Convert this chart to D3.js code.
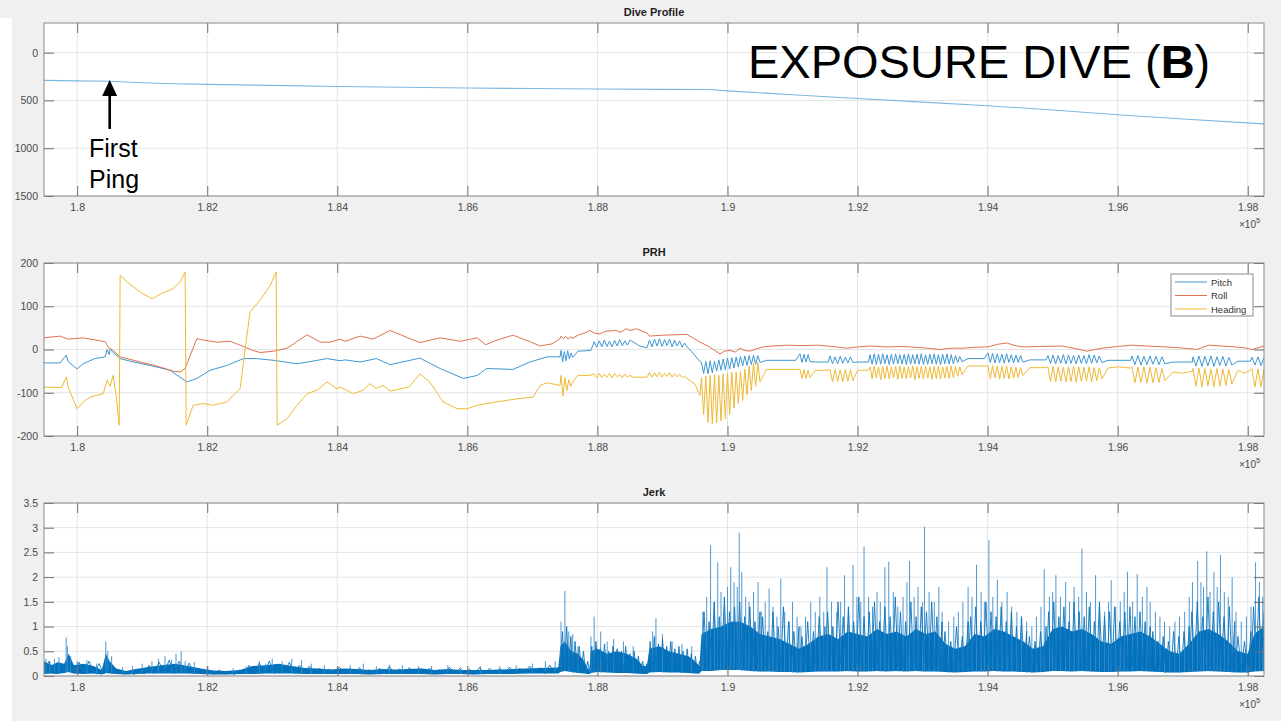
<!DOCTYPE html>
<html lang="en">
<head>
<meta charset="UTF-8" />
<title>Exposure Dive (B)</title>
<script src="https://d3js.org/d3.v7.min.js"></script>
<style>
  body { margin: 0; background: #f0f0f0; }
  svg { display: block; font-family: Arial, 'Liberation Sans', sans-serif; }
  .tick text { fill: #4a4a4a; font-size: 10.5px; font-family: Arial, 'Liberation Sans', sans-serif; }
  .tick line { stroke: #6e6e6e; }
  .domain { display: none; }
  .grid line { stroke: #e4e4e4; stroke-width: 1; }
  .title { font-weight: bold; font-size: 11px; fill: #1e1e1e; text-anchor: middle; }
  .exp { font-size: 10px; fill: #4a4a4a; }
</style>
</head>
<body>
<svg id="chart" width="1281" height="721"></svg>
<script>
  // ---- data (x in samples) ----
  const xTicks = [180000, 182000, 184000, 186000, 188000, 190000, 192000, 194000, 196000, 198000];
  const diveTicks = [0, 500, 1000, 1500];
  const prhTicks = [-200, -100, 0, 100, 200];
  const jerkTicks = [0, 0.5, 1, 1.5, 2, 2.5, 3, 3.5];

  const diveDepth = [[179490,290],[180000,295],[180500,300],[181000,315],[181500,325],[182000,332],
    [183000,343],[184000,355],[185000,363],[186000,370],[187000,376],[188000,381],[189000,384],
    [189700,385],[190000,400],[191000,440],[192000,480],[193000,518],[194000,555],[195000,600],
    [196000,650],[197000,695],[198250,745]];

  // items are [x, value] or [x0, x1, [values evenly spaced between x0 and x1]] for fluking bursts
  const pitch = [[179490,-31],[179739,-31],[179831,-13],[179862,-28],[180000,-45],[180092,-33],[180270,-21],
    [180430,-17],[180461,0],[180490,-12],[180507,0],[180540,-5],[180661,-21],[180870,-29],[181122,-37],
    [181429,-48],[181686,-75],[181840,-67],[182044,-48],[182300,-37],[182556,-21],[182760,-21],[183020,-25],
    [183377,-33],[183580,-28],[183843,-21],[184042,-26],[184120,-24],[184350,-29],[184600,-21],[184812,-35],
    [185273,-20],[185580,-44],[185938,-67],[186150,-60],[186297,-44],[186703,-46],[186964,-29],[187225,-17],
    [187425,-17],
    [187440,187620,[-2,-28,-5,-26,-3,-22,-8,-18]],
    [187700,-4],[187900,-2],
    [187950,188500,[18,5,20,6,22,7,19,6,21,8,23,9,20,10,22]],
    [188650,8],[188763,4],
    [188800,189380,[22,6,24,8,25,7,23,9,24,6,22,8,20,5,15,6]],
    [189450,-5],[189577,-28],
    [189600,190500,[-30,-55,-28,-56,-26,-54,-27,-50,-24,-48,-22,-47,-20,-45,-19,-43,-18,-40,-16,-38,-15,-37,-14,-35,-13,-34,-14,-30]],
    [190600,-25],[191050,-25],
    [191115,191270,[-10,-30,-11,-29,-12,-28]],
    [191350,-29],[191550,-29],
    [191576,191930,[-15,-33,-17,-33,-16,-32,-18,-31,-17,-30]],
    [192000,-29],[192170,-29],
    [192191,193605,[-12,-34,-10,-35,-11,-34,-10,-33,-12,-35,-11,-34,-10,-33,-12,-34,-11,-35,-10,-34,-12,-33,-11,-34,-10,-35,-12,-34,-11,-33,-10,-34,-12,-35,-11,-33,-10,-34,-12,-33,-14,-30,-16,-28]],
    [193700,-21],[193950,-21],
    [194005,194543,[-8,-30,-9,-31,-10,-30,-11,-32,-10,-30,-12,-31,-13,-30,-14,-29]],
    [194650,-24],[194900,-24],
    [194927,195757,[-14,-32,-13,-33,-14,-32,-12,-33,-13,-32,-14,-33,-13,-32,-14,-33,-12,-32,-13,-31,-15,-30]],
    [195850,-25],[196200,-25],
    [196219,196726,[-15,-35,-14,-36,-16,-35,-15,-34,-16,-35,-17,-33]],
    [196850,-29],[197150,-29],
    [197157,197756,[-17,-38,-15,-39,-16,-38,-15,-39,-17,-37,-16,-38,-18,-36]],
    [197850,-27],[198040,-27],
    [198064,198250,[-18,-36,-17,-37,-19]]];

  const roll = [[179490,27],[179739,31],[179862,24],[180092,27],[180354,20],[180430,18],[180461,10],[180490,3],
    [180553,-2],[180661,-17],[180969,-29],[181200,-37],[181476,-50],[181583,-52],[181660,-44],[181740,-13],
    [181840,25],[181937,22],[182150,17],[182350,19],[182506,10],[182700,-2],[182813,-7],[183020,-4],[183228,3],
    [183536,34],[183740,17],[183890,17],[184042,24],[184120,19],[184350,31],[184550,24],[184812,44],[185119,25],
    [185273,16],[185580,27],[185890,19],[186149,27],[186280,11],[186457,22],[186703,33],[186964,18],[187118,8],
    [187300,13],[187425,25],
    [187440,187620,[31,25,30,24,29,26]],
    [187700,33],[187800,38],[187886,44],[187950,38],[188040,36],[188120,42],[188280,44],[188360,40],[188440,48],
    [188501,44],[188600,48],[188700,42],[188763,38],[188800,31],[189000,33],[189200,34],[189378,35],[189577,17],
    [189700,8],[189800,-2],[189885,-10],[189950,-4],[190039,-2],[190120,-6],[190192,3],[190260,-2],[190346,-4],
    [190450,2],[190550,6],[190700,8],[190915,10],[191150,9],[191400,10],[191600,7],[191837,3],[192000,6],
    [192191,8],[192450,6],[192700,7],[193000,4],[193267,0],[193450,3],[193605,3],[193800,5],[194005,6],
    [194150,12],[194297,15],[194420,9],[194543,6],[194800,7],[195150,8],[195350,2],[195527,-4],[195650,0],
    [195757,3],[196000,7],[196219,10],[196450,8],[196726,6],[196950,4],[197218,0],[197400,10],[197600,8],
    [197800,6],[197950,4],[198064,0],[198248,8]];

  const heading = [[179490,-87],[179760,-88],[179831,-64],[179870,-90],[180000,-137],[180092,-121],[180200,-110],
    [180400,-102],[180461,-71],[180507,-85],[180553,-60],[180600,-106],[180646,-175],[180661,172],[180769,156],
    [180969,133],[181153,117],[181276,128],[181476,141],[181583,156],[181660,179],[181676,-175],[181783,-129],
    [181937,-125],[182091,-129],[182306,-121],[182398,-106],[182506,-91],[182583,2],[182660,87],[182813,114],
    [182967,148],[183059,179],[183075,-175],[183228,-160],[183382,-129],[183536,-102],[183690,-94],[183843,-75],
    [183997,-91],[184042,-87],[184250,-102],[184400,-94],[184500,-79],[184600,-90],[184700,-83],[184812,-96],
    [185100,-87],[185273,-56],[185420,-75],[185627,-121],[185842,-137],[185995,-137],[186149,-129],[186457,-121],
    [186764,-114],[187010,-110],[187118,-83],[187225,-77],[187425,-83],
    [187440,187620,[-60,-108,-65,-95,-70,-85,-75]],
    [187700,-60],[187886,-60],
    [187950,188500,[-56,-66,-55,-65,-57,-64,-55,-66,-56,-63,-58,-65,-57,-64,-60]],
    [188547,-64],[188763,-64],
    [188800,189380,[-53,-64,-54,-63,-52,-64,-55,-62,-53,-64,-56,-63,-58,-65,-62,-67]],
    [189500,-80],[189577,-106],
    [189600,190500,[-65,-150,-62,-168,-60,-172,-58,-170,-60,-165,-57,-160,-55,-150,-53,-135,-52,-125,-50,-118,-45,-105,-38,-95,-32,-85,-30,-75]],
    [190600,-46],[191050,-46],
    [191115,191270,[-46,-67,-46,-67,-48,-65]],
    [191350,-48],[191550,-48],
    [191576,191930,[-46,-75,-46,-74,-47,-75,-46,-73,-47,-72]],
    [192000,-48],[192170,-48],
    [192191,193605,[-40,-68,-38,-66,-40,-70,-39,-67,-38,-68,-40,-66,-39,-69,-38,-67,-40,-68,-39,-66,-38,-70,-40,-67,-39,-68,-38,-66,-40,-69,-39,-67,-38,-68,-40,-66,-39,-67,-38,-65,-39,-62,-40,-58]],
    [193700,-38],[193950,-38],
    [194005,194543,[-38,-68,-37,-66,-38,-68,-39,-67,-38,-68,-40,-66,-41,-65,-42,-60]],
    [194650,-42],[194900,-42],
    [194927,195757,[-40,-74,-39,-75,-40,-73,-41,-75,-40,-74,-39,-76,-40,-74,-41,-73,-40,-75,-42,-72,-43,-68]],
    [195850,-43],[196000,-40],[196200,-43],
    [196219,196726,[-40,-77,-41,-76,-40,-78,-41,-77,-42,-76,-44,-72]],
    [196850,-52],[197000,-55],[197150,-50],
    [197157,197756,[-44,-85,-43,-86,-44,-84,-45,-86,-44,-85,-45,-83,-46,-80]],
    [197850,-48],[197950,-55],[198040,-48],
    [198064,198250,[-44,-87,-45,-86,-46]]];

  // jerk: dense core band [x, low, high]
  const jerkBand = [[179490,0.04,0.30],[179600,0.05,0.22],[179700,0.04,0.28],[179800,0.06,0.25],[179870,0.08,0.45],
    [179950,0.05,0.22],[180100,0.04,0.25],[180250,0.05,0.2],[180380,0.03,0.12],[180440,0.06,0.45],[180500,0.05,0.3],
    [180600,0.04,0.15],[180750,0.03,0.1],[180900,0.04,0.14],[181100,0.05,0.18],[181300,0.05,0.22],[181500,0.05,0.25],
    [181700,0.05,0.2],[181900,0.04,0.15],[182100,0.03,0.11],[182300,0.03,0.1],[182500,0.04,0.12],[182700,0.04,0.2],
    [182900,0.05,0.22],[183100,0.05,0.25],[183300,0.05,0.2],[183500,0.04,0.16],[183700,0.04,0.15],[183900,0.04,0.13],
    [184100,0.04,0.15],[184300,0.04,0.14],[184500,0.03,0.12],[184700,0.04,0.14],[184900,0.04,0.13],[185100,0.04,0.14],
    [185300,0.04,0.15],[185500,0.03,0.12],[185700,0.04,0.14],[185900,0.04,0.12],[186100,0.03,0.12],[186300,0.04,0.12],
    [186500,0.04,0.13],[186700,0.04,0.14],[186900,0.05,0.15],[187100,0.05,0.16],[187400,0.05,0.17],
    [187430,0.08,0.6],[187500,0.1,0.7],[187600,0.08,0.5],[187700,0.06,0.45],[187800,0.05,0.3],[187850,0.04,0.15],
    [187880,0.04,0.12],[187900,0.06,0.5],[188000,0.08,0.55],[188150,0.07,0.45],[188300,0.06,0.5],[188450,0.06,0.45],
    [188600,0.05,0.35],[188700,0.04,0.2],[188760,0.04,0.2],[188800,0.07,0.55],[188950,0.08,0.6],[189100,0.07,0.5],
    [189250,0.07,0.45],[189400,0.06,0.4],[189500,0.05,0.3],[189570,0.05,0.2],
    [189600,0.1,0.85],[189750,0.1,0.95],[189900,0.12,1.0],[190050,0.12,1.1],[190200,0.12,1.1],[190350,0.1,1.0],
    [190500,0.09,0.85],[190650,0.09,0.8],[190800,0.08,0.75],[190950,0.08,0.65],[191100,0.07,0.55],[191250,0.08,0.65],
    [191400,0.09,0.8],[191550,0.09,0.85],[191700,0.09,0.75],[191850,0.1,0.9],[192000,0.09,0.85],[192150,0.09,0.8],
    [192300,0.1,0.95],[192450,0.09,0.85],[192600,0.1,0.9],[192750,0.09,0.8],[192900,0.1,0.95],[193050,0.09,0.85],
    [193200,0.09,0.9],[193350,0.08,0.65],[193500,0.07,0.55],[193650,0.08,0.6],[193800,0.09,0.85],[193950,0.09,0.8],
    [194100,0.1,0.95],[194250,0.09,0.9],[194400,0.09,0.8],[194550,0.08,0.7],[194700,0.07,0.55],[194850,0.08,0.6],
    [195000,0.1,0.95],[195150,0.1,1.0],[195300,0.09,0.9],[195450,0.1,0.95],[195600,0.09,0.85],[195750,0.08,0.7],
    [195900,0.08,0.65],[196050,0.09,0.8],[196200,0.09,0.85],[196350,0.1,0.9],[196500,0.09,0.8],[196650,0.08,0.65],
    [196800,0.07,0.5],[196950,0.07,0.45],[197100,0.08,0.65],[197250,0.09,0.9],[197400,0.1,0.95],[197550,0.09,0.85],
    [197700,0.08,0.7],[197850,0.07,0.5],[198000,0.07,0.45],[198100,0.09,0.85],[198250,0.1,1.0]];

  // jerk trace: the signal swinging between low and high, values evenly spaced in each stretch
  const jerkTrace = [
    [179490,187420,[0.05,0.3,0.04,0.25,0.06,0.32,0.05,0.28,0.07,0.3, 0.05,0.25,0.04,0.22,0.05,
      0.12,0.04,0.1,0.03,0.13,0.04, 0.22,0.05,0.28,0.06,0.32,0.05,0.3,0.06,0.26,0.05,
      0.14,0.04,0.11,0.03,0.12,0.04,0.1,0.03,0.12,0.04, 0.22,0.05,0.26,0.06,0.3,0.05,0.24,0.06,0.28,0.05,0.22,0.06,0.2,
      0.04,0.16,0.05,0.14,0.04,0.18,0.05,0.15,0.04,0.17,0.05,0.13,0.04,0.16,0.05,0.19,0.04,0.14,0.05,0.17,0.04,0.15,
      0.05,0.16,0.04,0.13,0.05,0.18,0.04,0.15,0.05,0.14,0.04,0.17,0.05,0.16,0.04,0.15,0.05,0.18,0.04,0.16,0.05,0.2,
      0.06,0.17,0.05,0.22,0.06,0.2]],
    [187430,187850,[0.1,0.9,0.12,1.0,0.15,0.8,0.1,0.7,0.12,0.6,0.08,0.5,0.06,0.3]],
    [187880,188760,[0.06,0.6,0.1,0.7,0.12,0.55,0.08,0.65,0.12,0.5,0.08,0.6,0.07,0.55,0.1,0.5,0.06,0.6,0.08,0.45,0.06,0.5,0.05,0.4,0.06,0.3,0.05,0.25]],
    [188780,189570,[0.08,0.7,0.12,0.8,0.08,0.65,0.12,0.75,0.1,0.6,0.08,0.7,0.12,0.55,0.08,0.6,0.07,0.5,0.08,0.55,0.07,0.45,0.06,0.4,0.05,0.3]],
    [189600,190500,[0.15,1.3,0.2,1.1,0.25,1.5,0.15,1.2,0.3,1.6,0.2,1.3,0.25,1.4,0.15,1.5,0.25,1.2,0.2,1.4,0.15,1.1,0.25,1.3]],
    [190500,191100,[0.15,1.2,0.2,0.9,0.15,1.3,0.1,1.0,0.15,1.4,0.2,1.1,0.1,0.9,0.15,1.0]],
    [191100,191500,[0.1,0.8,0.15,1.1,0.08,0.9,0.15,1.2,0.1,1.0]],
    [191500,193300,[0.15,1.3,0.2,1.0,0.15,1.5,0.25,1.2,0.15,1.4,0.2,1.1,0.25,1.6,0.15,1.2,0.2,1.3,0.15,1.5,0.25,1.1,0.2,1.4,
      0.15,1.2,0.25,1.6,0.2,1.3,0.15,1.1,0.25,1.5,0.2,1.2,0.15,1.4,0.25,1.3,0.15,1.5,0.2,1.2,0.15,1.1]],
    [193300,193700,[0.1,0.9,0.08,0.7,0.1,1.0,0.08,0.8,0.1,1.1]],
    [193700,194600,[0.15,1.2,0.2,1.4,0.15,1.1,0.25,1.5,0.15,1.3,0.2,1.2,0.15,1.4,0.2,1.1,0.15,1.3,0.1,1.0,0.15,1.2,0.1,0.9]],
    [194600,194900,[0.08,0.8,0.1,0.7,0.08,0.9,0.1,1.0]],
    [194900,196500,[0.15,1.3,0.2,1.5,0.15,1.2,0.25,1.4,0.2,1.1,0.15,1.5,0.25,1.3,0.15,1.2,0.2,1.4,0.15,1.1,0.25,1.5,0.2,1.2,
      0.15,1.3,0.2,1.4,0.15,1.1,0.25,1.3,0.15,1.4,0.2,1.2,0.15,1.3,0.2,1.1,0.15,1.0]],
    [196500,197100,[0.1,0.9,0.08,0.7,0.1,0.8,0.07,0.7,0.1,0.9,0.08,0.8,0.1,0.9,0.15,1.0]],
    [197100,197800,[0.15,1.3,0.2,1.5,0.15,1.2,0.25,1.6,0.2,1.3,0.15,1.5,0.25,1.2,0.15,1.4,0.15,1.1]],
    [197800,198050,[0.08,0.8,0.1,0.7,0.08,0.9]],
    [198050,198250,[0.15,1.4,0.2,1.6,0.25,1.3]]];

  // tall spikes sticking out of the core [x, peak]
  const jerkSpikes = [[179520,0.35],[179580,0.3],[179650,0.35],[179720,0.38],[179831,0.78],[179850,0.6],[179900,0.4],
    [180000,0.3],[180150,0.32],[180300,0.25],[180440,0.7],[180470,0.5],[180530,0.4],[180700,0.18],[180850,0.2],
    [181000,0.25],[181150,0.3],[181250,0.35],[181350,0.4],[181450,0.33],[181520,0.45],[181600,0.5],[181660,0.3],
    [181800,0.28],[182000,0.2],[182400,0.16],[182600,0.2],[182800,0.3],[182900,0.25],[183000,0.35],[183150,0.3],
    [183300,0.35],[183450,0.32],[183600,0.25],[183800,0.22],[184000,0.2],[184200,0.22],[184400,0.25],[184600,0.2],
    [184800,0.23],[185000,0.22],[185250,0.2],[185450,0.2],[185700,0.22],[185900,0.18],[186200,0.2],[186500,0.2],
    [186750,0.22],[187000,0.25],[187200,0.3],[187350,0.3],
    [187440,1.1],[187500,1.72],[187560,0.9],[187620,0.85],[187700,0.6],[187900,0.8],[187950,1.2],[188050,0.9],
    [188150,0.7],[188250,0.75],[188400,0.7],[188550,0.6],[188850,0.9],[188900,1.17],[189000,0.85],[189150,0.7],
    [189300,0.65],[189450,0.6],
    [189620,1.3],[189680,1.6],[189740,2.65],[189800,1.5],[189850,2.3],[189900,1.7],[189950,1.4],[190000,1.8],
    [190050,2.2],[190100,1.9],[190150,1.8],[190180,2.9],[190220,2.1],[190280,1.6],[190330,1.5],[190400,1.7],
    [190470,1.9],[190520,1.3],[190580,1.5],[190640,1.77],[190700,1.4],[190760,1.2],[190820,1.97],[190880,1.3],
    [190950,1.1],[191000,1.5],[191070,1.2],[191130,1.0],[191200,1.2],[191280,1.5],[191350,1.3],[191420,1.6],
    [191480,1.3],[191530,2.2],[191600,1.5],[191680,1.3],[191740,1.5],[191800,2.04],[191860,1.4],[191930,2.25],
    [191990,1.6],[192050,1.5],[192100,2.62],[192170,1.6],[192230,1.4],[192300,1.7],[192350,1.5],[192420,2.2],
    [192480,2.31],[192550,1.7],[192620,1.4],[192700,1.6],[192760,1.9],[192800,2.33],[192870,1.6],[192930,1.8],
    [193000,1.5],[193030,3.02],[193100,1.7],[193180,1.5],[193250,1.8],[193300,1.3],[193400,1.1],[193480,1.2],
    [193550,1.3],[193620,1.5],[193700,1.8],[193760,1.6],[193830,2.25],[193900,1.7],[193950,1.5],[194020,2.75],
    [194080,1.6],[194150,1.95],[194220,1.5],[194300,1.7],[194370,1.4],[194450,1.3],[194520,1.2],[194600,1.1],
    [194680,1.0],[194750,1.2],[194820,1.4],[194870,2.16],[194950,1.6],[195000,1.7],[195050,2.04],[195120,1.6],
    [195200,1.9],[195260,1.5],[195330,1.8],[195400,1.6],[195450,2.58],[195520,1.7],[195580,1.5],[195660,2.04],
    [195720,1.4],[195800,1.3],[195860,1.5],[195900,1.94],[195970,1.4],[196040,1.5],[196100,1.7],[196150,2.11],
    [196230,1.5],[196300,2.06],[196380,1.6],[196450,1.8],[196500,1.5],[196580,1.3],[196650,1.2],[196720,1.1],
    [196800,1.0],[196880,1.1],[196950,1.2],[197030,1.3],[197100,1.6],[197150,1.9],[197230,2.33],[197280,1.9],
    [197320,1.8],[197370,2.52],[197420,1.7],[197480,2.1],[197530,1.8],[197580,2.45],[197640,1.7],[197700,1.6],
    [197760,2.0],[197820,1.3],[197900,1.1],[197980,1.2],[198050,1.4],[198120,2.3],[198180,1.9],[198230,1.6]];

  const legendItems = [
    { name: "Pitch", color: "#3d97d3" },
    { name: "Roll", color: "#e0734f" },
    { name: "Heading", color: "#efb935" }
  ];

  // ---- layout ----
  const svg = d3.select("#chart");
  const left = 44, right = 1264;
  const x = d3.scaleLinear().domain([179490, 198250]).range([left, right]);

  svg.append("rect").attr("x", 0).attr("y", 18).attr("width", 12).attr("height", 703).attr("fill", "#fff");

  function expand(items) {
    const out = [];
    items.forEach(it => {
      if (Array.isArray(it[2])) {
        const [x0, x1, v] = it;
        v.forEach((val, i) => out.push([x0 + (x1 - x0) * i / (v.length - 1), val]));
      } else out.push(it);
    });
    return out;
  }

  function frame(id, title, top, bottom, y, yTicks) {
    const g = svg.append("g");
    g.append("rect").attr("x", left).attr("y", top).attr("width", right - left).attr("height", bottom - top).attr("fill", "#fff");

    const grid = g.append("g").attr("class", "grid");
    grid.selectAll(".gx").data(xTicks).enter().append("line")
      .attr("x1", d => x(d)).attr("x2", d => x(d)).attr("y1", top).attr("y2", bottom);
    grid.selectAll(".gy").data(yTicks).enter().append("line")
      .attr("x1", left).attr("x2", right).attr("y1", d => y(d)).attr("y2", d => y(d));

    g.append("clipPath").attr("id", id).append("rect")
      .attr("x", left).attr("y", top).attr("width", right - left).attr("height", bottom - top);
    const plot = g.append("g").attr("clip-path", `url(#${id})`);

    const fmt = v => String(+(v / 1e5).toFixed(2));
    g.append("g").attr("transform", `translate(0,${bottom})`)
      .call(d3.axisBottom(x).tickValues(xTicks).tickFormat(fmt).tickSizeInner(-10).tickSizeOuter(0).tickPadding(8));
    g.append("g").attr("transform", `translate(0,${top})`)
      .call(d3.axisTop(x).tickValues(xTicks).tickFormat("").tickSizeInner(-10).tickSizeOuter(0));
    g.append("g").attr("transform", `translate(${left},0)`)
      .call(d3.axisLeft(y).tickValues(yTicks).tickFormat(d => String(d)).tickSizeInner(-10).tickSizeOuter(0).tickPadding(6));
    g.append("g").attr("transform", `translate(${right},0)`)
      .call(d3.axisRight(y).tickValues(yTicks).tickFormat("").tickSizeInner(-10).tickSizeOuter(0));

    g.append("text").attr("class", "title").attr("x", (left + right) / 2).attr("y", top - 7).text(title);

    const e = g.append("text").attr("class", "exp").attr("x", 1239).attr("y", bottom + 32);
    e.append("tspan").text("\u00d710");
    e.append("tspan").attr("dy", -5).attr("font-size", "7.5px").text("5");

    const box = () => g.append("rect").attr("x", left).attr("y", top).attr("width", right - left)
      .attr("height", bottom - top).attr("fill", "none").attr("stroke", "#8a8a8a").attr("stroke-width", 1);
    return { g, plot, box };
  }

  // ---- Dive Profile ----
  const yDive = d3.scaleLinear().domain([-310, 1500]).range([23, 196]);
  const p1 = frame("clipDive", "Dive Profile", 23, 196, yDive, diveTicks);
  p1.plot.append("path").datum(diveDepth)
    .attr("fill", "none").attr("stroke", "#7db7e0").attr("stroke-width", 1.1)
    .attr("d", d3.line().x(d => x(d[0])).y(d => yDive(d[1])));
  p1.box();

  // annotations
  const ax = x(180500);
  p1.g.append("line").attr("x1", ax).attr("x2", ax).attr("y1", 129).attr("y2", 93)
    .attr("stroke", "#000").attr("stroke-width", 2.6);
  p1.g.append("path").attr("d", `M${ax},80 L${ax - 7.5},96 L${ax + 7.5},96 Z`).attr("fill", "#000");
  p1.g.append("text").attr("x", 89).attr("y", 157).attr("font-size", "25px").attr("fill", "#000").text("First");
  p1.g.append("text").attr("x", 89).attr("y", 188).attr("font-size", "25px").attr("fill", "#000").text("Ping");
  const big = p1.g.append("text").attr("x", 748).attr("y", 78).attr("font-size", "47px").attr("fill", "#000");
  big.append("tspan").text("EXPOSURE DIVE (");
  big.append("tspan").attr("font-weight", "bold").text("B");
  big.append("tspan").text(")");

  // ---- PRH ----
  const yPrh = d3.scaleLinear().domain([-200, 200]).range([436, 263]);
  const p2 = frame("clipPrh", "PRH", 263, 436, yPrh, prhTicks);
  const prhLine = d3.line().x(d => x(d[0])).y(d => yPrh(d[1]));
  [pitch, roll, heading].forEach((s, i) => {
    p2.plot.append("path").datum(expand(s))
      .attr("fill", "none").attr("stroke", legendItems[i].color).attr("stroke-width", 1)
      .attr("stroke-linejoin", "round").attr("d", prhLine);
  });
  p2.box();

  const lg = p2.g.append("g").attr("transform", "translate(1171,274)");
  lg.append("rect").attr("width", 82).attr("height", 42).attr("fill", "#fff").attr("stroke", "#8a8a8a");
  legendItems.forEach((it, i) => {
    const yy = 8 + i * 13.5;
    lg.append("line").attr("x1", 4).attr("x2", 36).attr("y1", yy).attr("y2", yy)
      .attr("stroke", it.color).attr("stroke-width", 1);
    lg.append("text").attr("x", 40).attr("y", yy + 3.5).attr("font-size", "9.5px").attr("fill", "#333").text(it.name);
  });

  // ---- Jerk ----
  const yJerk = d3.scaleLinear().domain([0, 3.5]).range([676, 503]);
  const p3 = frame("clipJerk", "Jerk", 503, 676, yJerk, jerkTicks);
  const bis = d3.bisector(d => d[0]).left;
  p3.plot.append("path").datum(jerkBand)
    .attr("fill", "#0072bd").attr("stroke", "none")
    .attr("d", d3.area().x(d => x(d[0])).y0(d => yJerk(d[1])).y1(d => yJerk(d[2])));
  p3.plot.selectAll(".spike").data(jerkSpikes).enter().append("line")
    .attr("x1", d => x(d[0])).attr("x2", d => x(d[0]))
    .attr("y1", d => yJerk(jerkBand[Math.min(bis(jerkBand, d[0]), jerkBand.length - 1)][1]))
    .attr("y2", d => yJerk(d[1]))
    .attr("stroke", "#3a8ccd").attr("stroke-width", 0.9);
  p3.plot.append("path").datum(expand(jerkTrace))
    .attr("fill", "none").attr("stroke", "#0b74bb").attr("stroke-width", 0.9)
    .attr("d", d3.line().x(d => x(d[0])).y(d => yJerk(d[1])));
  p3.box();
</script>
</body>
</html>
